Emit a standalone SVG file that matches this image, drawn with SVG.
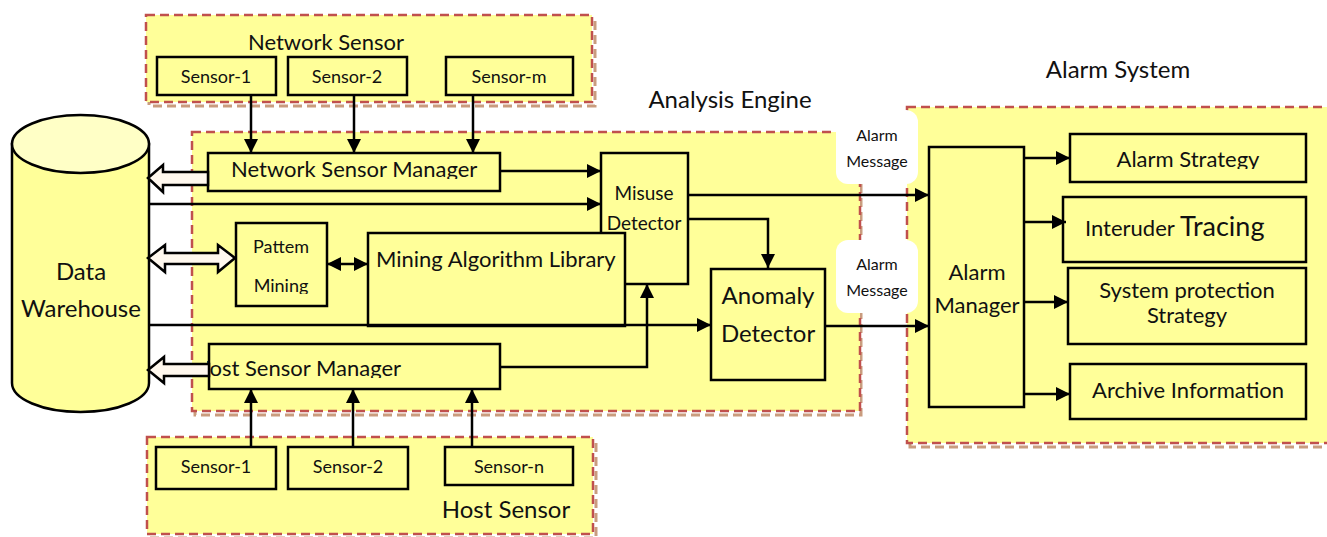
<svg xmlns="http://www.w3.org/2000/svg" width="1327" height="537" viewBox="0 0 1327 537">
<style>
.cont{fill:#FFFF99;stroke:#C0504D;stroke-width:2.5;stroke-dasharray:9 5}
.shadow{fill:none;stroke:#C99C7E;stroke-width:3;stroke-dasharray:9 5}
.box{fill:#FFFF99;stroke:#000;stroke-width:2.5}
.t{font-family:Lato,"Open Sans",sans-serif;fill:#111}
.c{text-anchor:middle}
.ln{fill:none;stroke:#000;stroke-width:2.5}
.hollow{fill:#FFF8EE;stroke:#000;stroke-width:2.5;stroke-linejoin:miter}
.lbl{fill:#fff}
</style>
<defs>
<marker id="ah" markerUnits="userSpaceOnUse" markerWidth="16" markerHeight="14" refX="14" refY="7" orient="auto"><path d="M0,0 L14,7 L0,14 Z" fill="#000"/></marker>
<marker id="as" markerUnits="userSpaceOnUse" markerWidth="16" markerHeight="14" refX="0" refY="7" orient="auto"><path d="M14,0 L0,7 L14,14 Z" fill="#000"/></marker>
<clipPath id="cNSM"><rect x="200" y="150" width="310" height="29"/></clipPath>
<clipPath id="cHSM"><rect x="207" y="340" width="300" height="38"/></clipPath>
<clipPath id="cPM"><rect x="230" y="220" width="100" height="74"/></clipPath>
<clipPath id="cAS"><rect x="1060" y="130" width="250" height="39"/></clipPath>
</defs>

<!-- containers -->
<g id="network-sensor">
<rect class="shadow" x="149" y="19" width="446" height="87"/>
<rect class="cont" x="146" y="15" width="446" height="87"/>
<text class="t c" x="326" y="50" font-size="22">Network Sensor</text>
</g>
<g id="analysis-engine">
<rect class="shadow" x="195" y="136" width="666" height="279"/>
<rect class="cont" x="192" y="132" width="668" height="279"/>
<text class="t c" x="730" y="108" font-size="24">Analysis Engine</text>
</g>
<g id="host-sensor">
<rect class="shadow" x="150" y="441" width="446" height="97"/>
<rect class="cont" x="147" y="437" width="446" height="97"/>
<text class="t c" x="506" y="518" font-size="24">Host Sensor</text>
</g>
<g id="alarm-system">
<rect class="shadow" x="910" y="111" width="430" height="336"/>
<rect class="cont" x="907" y="107" width="430" height="336"/>
<text class="t c" x="1118" y="78" font-size="24">Alarm System</text>
</g>

<!-- alarm message labels -->
<g id="alarm-message-1">
<rect class="lbl" x="836" y="110" width="82" height="74" rx="12"/>
<text class="t c" x="877" y="141" font-size="16">Alarm</text>
<text class="t c" x="877" y="167" font-size="16">Message</text>
</g>
<g id="alarm-message-2">
<rect class="lbl" x="836" y="240" width="82" height="73" rx="12"/>
<text class="t c" x="877" y="270" font-size="16">Alarm</text>
<text class="t c" x="877" y="296" font-size="16">Message</text>
</g>

<!-- data warehouse -->
<g id="data-warehouse">
<path d="M12,144 L12,383 A68.5,29 0 0 0 149,383 L149,144 Z" fill="#FFFF99" stroke="#000" stroke-width="2.5"/>
<ellipse cx="80.5" cy="144" rx="68.5" ry="29" fill="#FFFFC6" stroke="#000" stroke-width="2.5"/>
<text class="t c" x="81" y="280" font-size="24">Data</text>
<text class="t c" x="81" y="317" font-size="24">Warehouse</text>
</g>

<!-- sensors -->
<g id="net-sensor-1"><rect class="box" x="157" y="57" width="119" height="38"/><text class="t c" x="216" y="83" font-size="18">Sensor-1</text></g>
<g id="net-sensor-2"><rect class="box" x="288" y="57" width="119" height="38"/><text class="t c" x="347" y="83" font-size="18">Sensor-2</text></g>
<g id="net-sensor-m"><rect class="box" x="446" y="57" width="127" height="38"/><text class="t c" x="509" y="83" font-size="18">Sensor-m</text></g>

<g id="host-sensor-1"><rect class="box" x="156" y="447" width="120" height="42"/><text class="t c" x="216" y="473" font-size="18">Sensor-1</text></g>
<g id="host-sensor-2"><rect class="box" x="288" y="447" width="120" height="42"/><text class="t c" x="348" y="473" font-size="18">Sensor-2</text></g>
<g id="host-sensor-n"><rect class="box" x="445" y="447" width="128" height="38"/><text class="t c" x="509" y="473" font-size="18">Sensor-n</text></g>

<!-- analysis engine nodes -->
<g id="network-sensor-manager">
<rect class="box" x="208" y="153" width="292" height="38"/>
<text class="t" x="231" y="177" font-size="22" clip-path="url(#cNSM)">Network Sensor Manager</text>
</g>
<g id="misuse-detector">
<rect class="box" x="601" y="153" width="87" height="131"/>
<text class="t c" x="644" y="200" font-size="19">Misuse</text>
<text class="t c" x="644" y="230" font-size="19">Detector</text>
</g>
<g id="pattem-mining">
<rect class="box" x="236" y="223" width="91" height="83"/>
<text class="t c" x="281" y="253" font-size="18">Pattem</text>
<text class="t c" x="281" y="292" font-size="18" clip-path="url(#cPM)">Mining</text>
</g>
<g id="mining-algorithm-library">
<rect class="box" x="368" y="233" width="257" height="93"/>
<text class="t" x="376" y="267" font-size="22">Mining Algorithm Library</text>
</g>
<g id="anomaly-detector">
<rect class="box" x="711" y="269" width="114" height="111"/>
<text class="t c" x="768" y="304" font-size="24">Anomaly</text>
<text class="t c" x="768" y="342" font-size="24">Detector</text>
</g>
<g id="host-sensor-manager">
<rect class="box" x="209" y="344" width="291" height="45"/>
<text class="t" x="193" y="376" font-size="22" clip-path="url(#cHSM)">Host Sensor Manager</text>
</g>

<!-- alarm system nodes -->
<g id="alarm-manager">
<rect class="box" x="929" y="147" width="95" height="260"/>
<text class="t c" x="977" y="280" font-size="22">Alarm</text>
<text class="t c" x="977" y="313" font-size="22">Manager</text>
</g>
<g id="alarm-strategy">
<rect class="box" x="1070" y="134" width="236" height="48"/>
<text class="t c" x="1188" y="167" font-size="22" clip-path="url(#cAS)">Alarm Strategy</text>
</g>
<g id="interuder-tracing">
<rect class="box" x="1063" y="197" width="243" height="65"/>
<text class="t" x="1085" y="236"><tspan font-size="22">Interuder </tspan><tspan font-size="27">Tracing</tspan></text>
</g>
<g id="system-protection-strategy">
<rect class="box" x="1068" y="268" width="238" height="76"/>
<text class="t c" x="1187" y="298" font-size="22">System protection</text>
<text class="t c" x="1187" y="323" font-size="22">Strategy</text>
</g>
<g id="archive-information">
<rect class="box" x="1070" y="364" width="236" height="55"/>
<text class="t c" x="1188" y="398" font-size="22">Archive Information</text>
</g>

<!-- connectors -->
<g id="connectors">
<line class="ln" x1="251" y1="95" x2="251" y2="153" marker-end="url(#ah)"/>
<line class="ln" x1="354" y1="95" x2="354" y2="153" marker-end="url(#ah)"/>
<line class="ln" x1="473" y1="95" x2="473" y2="153" marker-end="url(#ah)"/>
<line class="ln" x1="500" y1="171" x2="601" y2="171" marker-end="url(#ah)"/>
<line class="ln" x1="149" y1="204" x2="601" y2="204" marker-end="url(#ah)"/>
<line class="ln" x1="149" y1="325" x2="711" y2="325" marker-end="url(#ah)"/>
<line class="ln" x1="327" y1="264" x2="368" y2="264" marker-start="url(#as)" marker-end="url(#ah)"/>
<path class="ln" d="M500,367 H647 V284" marker-end="url(#ah)"/>
<path class="ln" d="M688,219 H768 V268" marker-end="url(#ah)"/>
<path class="ln" d="M688,195 H929" marker-end="url(#ah)"/>
<path class="ln" d="M825,326 H929" marker-end="url(#ah)"/>
<line class="ln" x1="251" y1="447" x2="251" y2="389" marker-end="url(#ah)"/>
<line class="ln" x1="353" y1="447" x2="353" y2="389" marker-end="url(#ah)"/>
<line class="ln" x1="472" y1="447" x2="472" y2="389" marker-end="url(#ah)"/>
<line class="ln" x1="1024" y1="158" x2="1070" y2="158" marker-end="url(#ah)"/>
<line class="ln" x1="1024" y1="222" x2="1066" y2="222" marker-end="url(#ah)"/>
<line class="ln" x1="1024" y1="302" x2="1068" y2="302" marker-end="url(#ah)"/>
<line class="ln" x1="1024" y1="394" x2="1070" y2="394" marker-end="url(#ah)"/>
<polygon class="hollow" points="148,178 163,165 163,172 208,172 208,185 163,185 163,192"/>
<polygon class="hollow" points="148,258 165,245 165,253 218,253 218,245 235,258 218,272 218,264 165,264 165,272"/>
<polygon class="hollow" points="148,370 164,357 164,364 209,364 209,376 164,376 164,383"/>
</g>
</svg>
